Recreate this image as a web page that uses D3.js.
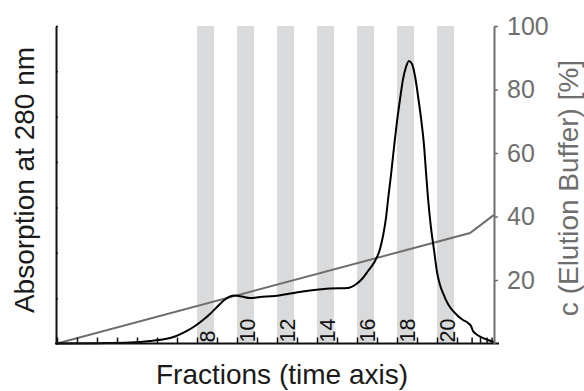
<!DOCTYPE html>
<html>
<head>
<meta charset="utf-8">
<script src="https://cdn.jsdelivr.net/npm/d3@7"></script>
<style>
  body { margin: 0; background: #fff; }
  text { font-family: "Liberation Sans", Arial, sans-serif; }
</style>
</head>
<body>
<figure id="chart" style="margin:0"></figure>
<script>
// fractions highlighted with grey bands
const bandFractions = [8, 10, 12, 14, 16, 18, 20];
// x tick positions (fraction boundaries, last ones get narrower)
const xTicks = [0, 1, 2, 3, 4, 5, 6, 7, 8, 9, 10, 11, 12, 13, 14, 15, 16, 17, 18, 19, 20, 20.73, 21.15, 21.48, 21.73];
const absTicks = [0, 100, 200, 300, 400, 500, 600, 700];
const bufferTicks = [20, 40, 60, 80, 100];

// absorption trace: fraction position / absorbance (arbitrary units)
const absFraction = [0, 2.15, 3.65, 4.65, 5.4, 5.9, 6.4, 6.9, 7.3, 7.65, 8.05, 8.4, 8.65, 8.9, 9.25, 9.65, 10.15, 10.9, 11.65, 12.65, 13.65, 14.55, 14.9, 15.25, 15.55, 15.9, 16.15, 16.3, 16.45, 16.55, 16.7, 16.85, 17.0, 17.15, 17.3, 17.45, 17.6, 17.75, 17.9, 18.05, 18.2, 18.35, 18.45, 18.55, 18.7, 18.85, 19.0, 19.15, 19.3, 19.55, 19.8, 20.05, 20.3, 20.55, 20.7, 20.8, 20.95, 21.2, 21.55, 21.85];
const absValue = [0, 0.7, 2.2, 5.5, 9.9, 15.4, 25.4, 38.6, 51.8, 65, 82.7, 97, 103.6, 105.8, 103.6, 100.3, 102.5, 104.7, 110.2, 116.8, 121.3, 122.4, 129, 142.2, 159.8, 181.9, 208.3, 237, 276.7, 316.4, 371.5, 432.5, 489.8, 538.3, 582.4, 609.7, 622.8, 616.2, 589.8, 545.7, 497.2, 437, 378, 320.8, 254.7, 206.2, 157.7, 129, 111.3, 87.1, 71.7, 60.6, 51.8, 45.2, 38.6, 27.6, 21, 14.3, 7.7, 3.3];

// elution buffer gradient [%]
const gradFraction = [0, 20.65, 21.85];
const gradValue = [0, 34.8, 40.5];

const W = 584, H = 391;
const mLeft = 57, mRight = 494, mTop = 26, mBottom = 343.5;

const svg = d3.select('figure#chart')
  .append('svg')
  .attr('width', W)
  .attr('height', H);

const x = d3.scaleLinear().domain([0, 21.85]).range([mLeft, mRight]);
const yAbs = d3.scaleLinear().domain([0, 700]).range([mBottom, mTop]);
const yBuf = d3.scaleLinear().domain([0, 100]).range([mBottom, mTop]);
const bandW = 0.85;

// grey fraction bands
svg.selectAll('rect.band')
  .data(bandFractions)
  .enter()
  .append('rect')
  .attr('class', 'band')
  .attr('x', d => x(d - 1))
  .attr('y', mTop)
  .attr('width', d => x(d - 1 + bandW) - x(d - 1))
  .attr('height', mBottom - mTop)
  .attr('fill', '#d9dadc');

// fraction labels, rotated, sitting on the axis
svg.selectAll('text.frac')
  .data(bandFractions)
  .enter()
  .append('text')
  .attr('class', 'frac')
  .attr('transform', d => 'translate(' + (x(d - 1 + bandW / 2) + 2) + ',' + (mBottom - 1) + ')rotate(-90)')
  .attr('dy', '0.36em')
  .attr('font-size', 21.5)
  .attr('fill', '#111')
  .text(d => d);

// gradient line
const gradData = gradFraction.map((f, i) => ({ f: f, v: gradValue[i] }));
svg.append('path')
  .datum(gradData)
  .attr('fill', 'none')
  .attr('stroke', '#6e6e6e')
  .attr('stroke-width', 2)
  .attr('d', d3.line().x(d => x(d.f)).y(d => yBuf(d.v)));

// absorption trace
const absData = absFraction.map((f, i) => ({ f: f, v: absValue[i] }));
svg.append('path')
  .datum(absData)
  .attr('fill', 'none')
  .attr('stroke', '#000')
  .attr('stroke-width', 2)
  .attr('d', d3.line().curve(d3.curveMonotoneX).x(d => x(d.f)).y(d => yAbs(d.v)));

// bottom axis, ticks pointing up
const xAxis = svg.append('g')
  .attr('transform', 'translate(0,' + mBottom + ')')
  .call(d3.axisBottom(x).tickValues(xTicks).tickSize(-6).tickFormat(''));
xAxis.select('.domain')
  .attr('d', 'M' + (mLeft - 2) + ',0H' + (mRight + 5))
  .attr('stroke', '#111')
  .attr('stroke-width', 2);
xAxis.selectAll('.tick line').attr('stroke', '#111').attr('stroke-width', 1.5);

// left axis, no labels, tiny inner ticks
const yAxisL = svg.append('g')
  .attr('transform', 'translate(' + (mLeft - 1) + ',0)')
  .call(d3.axisLeft(yAbs).tickValues(absTicks).tickSize(-2).tickSizeOuter(0).tickFormat(''));
yAxisL.select('.domain').attr('stroke', '#111').attr('stroke-width', 2);
yAxisL.selectAll('.tick line').attr('stroke', '#111').attr('stroke-width', 1.5);

// right axis for the buffer
const yAxisR = svg.append('g')
  .attr('transform', 'translate(' + mRight + ',0)')
  .call(d3.axisRight(yBuf).tickValues(bufferTicks).tickSize(4).tickSizeOuter(0).tickPadding(9));
yAxisR.select('.domain').attr('stroke', '#6e6e6e').attr('stroke-width', 2);
yAxisR.selectAll('.tick line').attr('stroke', '#6e6e6e').attr('stroke-width', 1.5);
yAxisR.selectAll('.tick text')
  .attr('font-size', 25)
  .attr('font-family', '"Liberation Sans", Arial, sans-serif')
  .attr('fill', '#6e6e6e');

// axis titles
svg.append('text')
  .attr('transform', 'translate(34,' + 180 + ')rotate(-90)')
  .attr('text-anchor', 'middle')
  .attr('font-size', 28)
  .attr('fill', '#1a1a1a')
  .text('Absorption at 280 nm');

svg.append('text')
  .attr('transform', 'translate(578,' + 188 + ')rotate(-90)')
  .attr('text-anchor', 'middle')
  .attr('font-size', 28)
  .attr('fill', '#6e6e6e')
  .text('c (Elution Buffer) [%]');

svg.append('text')
  .attr('x', 282)
  .attr('y', 384)
  .attr('text-anchor', 'middle')
  .attr('font-size', 28)
  .attr('fill', '#1a1a1a')
  .text('Fractions (time axis)');
</script>
</body>
</html>
